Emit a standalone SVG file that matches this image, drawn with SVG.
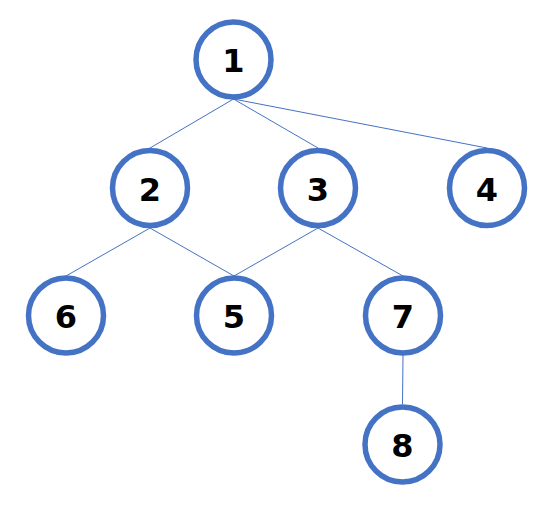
<svg xmlns="http://www.w3.org/2000/svg" width="557" height="507" viewBox="0 0 557 507">
<style>
.n circle{fill:#fff;stroke:#4472C4;stroke-width:5.5}
.n text{font-family:"DejaVu Sans","Liberation Sans",sans-serif;font-weight:bold;font-size:32px;fill:#000;text-anchor:middle;dominant-baseline:central}
#edges line{stroke:#4472C4;stroke-width:1}
</style>
<rect width="557" height="507" fill="#fff"/>
<g id="edges">
<line x1="233.5" y1="99" x2="150" y2="148"/>
<line x1="233.5" y1="99" x2="318" y2="148"/>
<line x1="233.5" y1="99" x2="487" y2="148"/>
<line x1="150" y1="228" x2="66" y2="276"/>
<line x1="150" y1="228" x2="234" y2="276"/>
<line x1="318" y1="228" x2="234" y2="276"/>
<line x1="318" y1="228" x2="403" y2="276"/>
<line x1="403" y1="355" x2="402.5" y2="404"/>
</g>
<g id="node1" class="n"><circle cx="233.5" cy="59.5" r="37.5"/><text x="233.5" y="61">1</text></g>
<g id="node2" class="n"><circle cx="150" cy="188" r="37.5"/><text x="150" y="189.5">2</text></g>
<g id="node3" class="n"><circle cx="318" cy="188" r="37.5"/><text x="318" y="189.5">3</text></g>
<g id="node4" class="n"><circle cx="487" cy="188" r="37.5"/><text x="487" y="189.5">4</text></g>
<g id="node6" class="n"><circle cx="66" cy="315.5" r="37.5"/><text x="66" y="317">6</text></g>
<g id="node5" class="n"><circle cx="234" cy="315.5" r="37.5"/><text x="234" y="317">5</text></g>
<g id="node7" class="n"><circle cx="403" cy="315.5" r="37.5"/><text x="403" y="317">7</text></g>
<g id="node8" class="n"><circle cx="402.5" cy="444.5" r="37.5"/><text x="402.5" y="446">8</text></g>
</svg>
